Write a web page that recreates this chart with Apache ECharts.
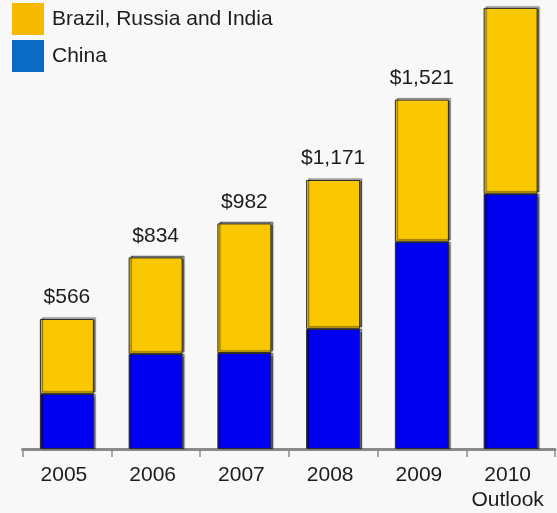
<!DOCTYPE html>
<html>
<head>
<meta charset="utf-8">
<script src="https://cdn.jsdelivr.net/npm/echarts@6/dist/echarts.min.js"></script>
<style>
  html, body { margin: 0; padding: 0; background: #f8f8f8; }
  #chart { width: 557px; height: 513px; }
</style>
</head>
<body>
<div id="chart"></div>
<script>
// Years on the category axis
var years = ['2005', '2006', '2007', '2008', '2009', '2010\nOutlook'];
// China (bottom segment), $ millions
var china = [240, 414, 418, 523, 902, 1111];
// Brazil, Russia and India (top segment), $ millions
var bri = [326, 420, 564, 648, 619, 809];

var totals = china.map(function (v, i) { return v + bri[i]; });

function money(v) {
  return '$' + v.toLocaleString('en-US');
}

var textColor = '#1c1c1c';
var font = 'Liberation Sans, Arial, Helvetica, sans-serif';

var chart = echarts.init(document.getElementById('chart'), null, { renderer: 'canvas' });

chart.setOption({
  backgroundColor: '#f8f8f8',
  animation: false,
  legend: {
    orient: 'vertical',
    left: 12,
    top: 3,
    padding: 0,
    itemWidth: 32,
    itemHeight: 32,
    itemGap: 5,
    icon: 'rect',
    textStyle: { fontSize: 21, color: textColor, fontFamily: font, padding: [0, 0, 0, 3] },
    data: [
      { name: 'Brazil, Russia and India', itemStyle: { color: '#f7ba00', borderWidth: 0, shadowBlur: 0, shadowOffsetX: 0, shadowOffsetY: 0 } },
      { name: 'China', itemStyle: { color: '#0a6ac6', borderWidth: 0, shadowBlur: 0, shadowOffsetX: 0, shadowOffsetY: 0 } }
    ]
  },
  grid: { left: 22.5, right: 2, top: 1, bottom: 64, outerBoundsMode: 'none' },
  xAxis: {
    type: 'category',
    data: years,
    axisLine: { lineStyle: { color: '#8a8a8a', width: 3 } },
    axisTick: { show: true, interval: 0, length: 8, lineStyle: { color: '#8a8a8a', width: 1.5 } },
    axisLabel: {
      interval: 0,
      hideOverlap: false,
      color: textColor,
      fontSize: 21,
      fontFamily: font,
      margin: 14,
      lineHeight: 25,
      padding: [0, 6, 0, 0]
    }
  },
  yAxis: {
    type: 'value',
    min: 0,
    max: 1950,
    show: false,
    splitLine: { show: false }
  },
  series: [
    {
      name: 'China',
      type: 'bar',
      stack: 'total',
      barWidth: 54,
      data: china,
      itemStyle: {
        color: '#0000f0',
        borderColor: '#2a2a2a',
        borderWidth: 1,
        shadowColor: 'rgba(0,0,0,0.55)',
        shadowOffsetX: 2,
        shadowOffsetY: 0,
        shadowBlur: 1
      }
    },
    {
      name: 'Brazil, Russia and India',
      type: 'bar',
      stack: 'total',
      barWidth: 54,
      data: bri,
      itemStyle: {
        color: '#f9c800',
        borderColor: '#2a2a2a',
        borderWidth: 1,
        shadowColor: 'rgba(0,0,0,0.55)',
        shadowOffsetX: 2,
        shadowOffsetY: -1.5,
        shadowBlur: 1
      },
      label: {
        show: true,
        position: 'top',
        distance: 11,
        color: textColor,
        fontSize: 21,
        fontFamily: font,
        formatter: function (p) { return money(totals[p.dataIndex]); }
      }
    }
  ]
});
</script>
</body>
</html>
